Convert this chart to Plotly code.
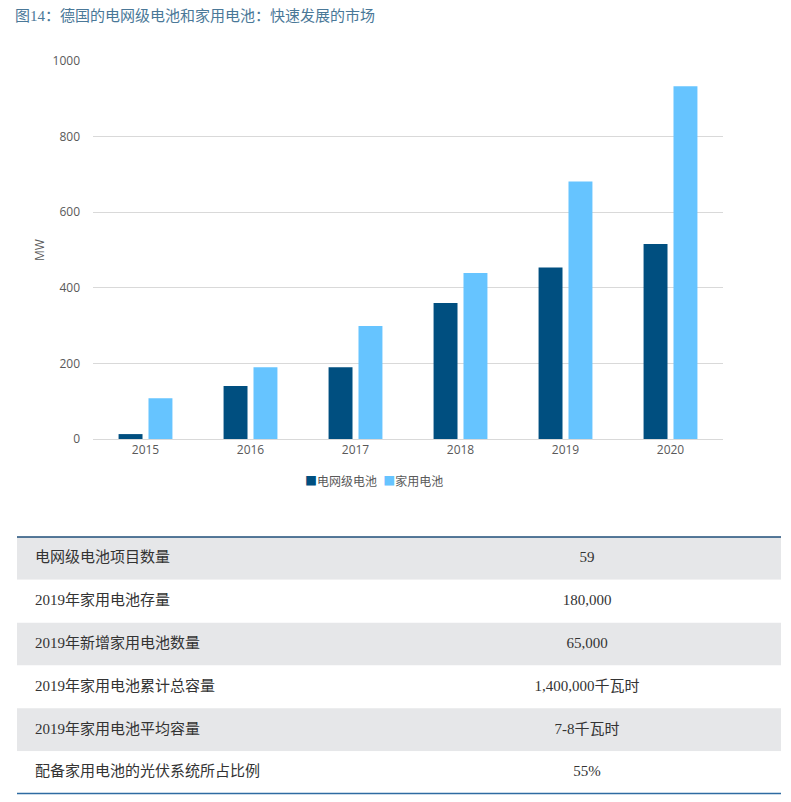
import plotly.graph_objects as go

W, H = 791, 802

# --- data ---
years = ["2015", "2016", "2017", "2018", "2019", "2020"]
grid_mw = [13, 140, 190, 360, 454, 516]
home_mw = [108, 190, 299, 439, 681, 933]

table_labels = [
    "电网级电池项目数量",
    "2019年家用电池存量",
    "2019年新增家用电池数量",
    "2019年家用电池累计总容量",
    "2019年家用电池平均容量",
    "配备家用电池的光伏系统所占比例",
]
table_values = ["59", "180,000", "65,000", "1,400,000千瓦时", "7-8千瓦时", "55%"]

DARK = "#004F80"
LIGHT = "#66C4FF"
GREY_TXT = "#595959"
SERIF = "Liberation Serif, Noto Sans CJK SC, serif"
TABLE_W = 764  # table width in px, used as x range of the table axes


def px_x(x):
    return x / W


def px_y(y):
    return 1 - y / H


fig = go.Figure()

fig.add_trace(go.Bar(x=years, y=grid_mw, name="电网级电池", marker_color=DARK,
                     marker_line_width=0))
fig.add_trace(go.Bar(x=years, y=home_mw, name="家用电池", marker_color=LIGHT,
                     marker_line_width=0))

# --- table below the chart, drawn on its own axes (one row per unit) ---
rows = [i + 0.5 for i in range(len(table_labels))]
fills = ["#E6E7E9" if i % 2 == 0 else "#FFFFFF" for i in range(len(table_labels))]

fig.add_trace(go.Bar(
    x=[TABLE_W] * len(rows), y=rows, base=0, width=1, orientation="h",
    marker=dict(color=fills, line_width=0), showlegend=False, hoverinfo="skip",
    xaxis="x2", yaxis="y2",
))
fig.add_trace(go.Scatter(
    x=[18] * len(rows), y=rows, text=table_labels, mode="text",
    textposition="middle right", showlegend=False, hoverinfo="skip",
    textfont=dict(family=SERIF, size=15, color="#333333"),
    xaxis="x2", yaxis="y2",
))
fig.add_trace(go.Scatter(
    x=[570] * len(rows), y=rows, text=table_values, mode="text",
    textposition="middle center", showlegend=False, hoverinfo="skip",
    textfont=dict(family=SERIF, size=15, color="#333333"),
    xaxis="x2", yaxis="y2",
))
# rules above and below the table
fig.add_shape(type="line", xref="paper", yref="paper",
              x0=px_x(17), x1=px_x(781), y0=px_y(537), y1=px_y(537),
              line=dict(color="#1F4E79", width=1.3))
fig.add_shape(type="line", xref="paper", yref="paper",
              x0=px_x(17), x1=px_x(781), y0=px_y(793.5), y1=px_y(793.5),
              line=dict(color="#2E6BA2", width=1.6))

fig.add_annotation(text="图14：德国的电网级电池和家用电池：快速发展的市场",
                   xref="paper", yref="paper", x=px_x(13), y=px_y(15),
                   xanchor="left", yanchor="middle", showarrow=False,
                   font=dict(family=SERIF, size=15, color="#4A7898"))

# compact legend, as in the source picture
legend_text = (f"<span style='color:{DARK}'>■</span>电网级电池  "
               f"<span style='color:{LIGHT}'>■</span>家用电池")
fig.add_annotation(text=legend_text, xref="paper", yref="paper",
                   x=px_x(374), y=px_y(481), xanchor="center", yanchor="middle",
                   showarrow=False, font=dict(size=12, color=GREY_TXT))

fig.update_layout(
    width=W, height=H,
    margin=dict(l=0, r=0, t=0, b=0, pad=0, autoexpand=False),
    paper_bgcolor="white", plot_bgcolor="white",
    barmode="group", bargap=0.43, bargroupgap=0.2,
    showlegend=False,
    font=dict(family="Open Sans, Noto Sans CJK SC, sans-serif", size=12, color=GREY_TXT),
    xaxis=dict(domain=[px_x(93), px_x(723)], showgrid=False, showline=True,
               automargin=False,
               linecolor="#D9D9D9", linewidth=1, ticks="", tickfont=dict(size=12, color=GREY_TXT)),
    yaxis=dict(domain=[px_y(439), px_y(61)], range=[0, 1000], dtick=200,
               automargin=False,
               showgrid=True, gridcolor="#D9D9D9", gridwidth=1, zeroline=False,
               showline=False, ticks="", ticklabelstandoff=12,
               tickfont=dict(size=12, color=GREY_TXT),
               title=dict(text="MW", font=dict(size=12, color=GREY_TXT), standoff=5)),
    xaxis2=dict(domain=[px_x(17), px_x(781)], range=[0, TABLE_W], visible=False,
                automargin=False, fixedrange=True),
    yaxis2=dict(domain=[px_y(794), px_y(537)], range=[len(rows), 0], visible=False,
                automargin=False, fixedrange=True),
)

fig.write_html("out.html", config={"displayModeBar": False},
               post_script="document.body.style.margin='0';document.body.style.overflow='hidden';")
